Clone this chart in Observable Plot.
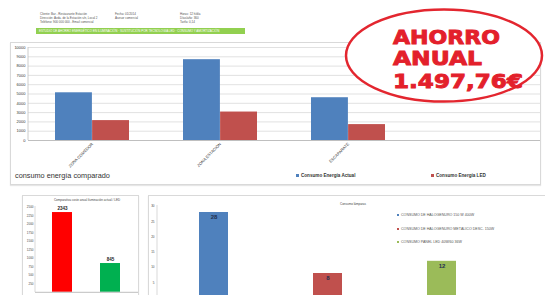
<!DOCTYPE html>
<html><head><meta charset="utf-8">
<script src="https://cdn.jsdelivr.net/npm/d3@7"></script>
<script src="https://cdn.jsdelivr.net/npm/@observablehq/plot@0.6"></script>
<style>
html,body{margin:0;padding:0;background:#fff;}
body{width:545px;height:295px;overflow:hidden;position:relative;font-family:"Liberation Sans",Arial,sans-serif;}
.abs{position:absolute;white-space:nowrap;}
.panel{position:absolute;border:1px solid #d9d9d9;background:#fff;box-sizing:border-box;box-shadow:0 1px 1px #e6e6e6;}
.plot{position:absolute;}
.tiny{font-size:3px;color:#555;line-height:4px;}
.sw{display:inline-block;width:3px;height:3px;margin-right:2px;vertical-align:middle;}
</style></head><body>
<script>
// ---------- DATA ----------
const zonas = ["ZONA COMEDOR", "ZONA ESTACIÓN", "ESCAPARATE"];
const consumoActual = [5130, 8690, 4600];
const consumoLED = [2140, 3060, 1710];
const topTicks = [0, 1000, 2000, 3000, 4000, 5000, 6000, 7000, 8000, 9000, 10000];
const seriesTop = ["Consumo Energía Actual", "Consumo Energía LED"];

const costes = ["Coste anual actual", "Coste anual LED"];
const costeValores = [2343.00, 845.24];
const costeTicks = [250, 500, 750, 1000, 1250, 1500, 1750, 2000, 2250, 2500];

const lamparas = ["CONSUMO DE HALOGENURO 150 W 400W", "CONSUMO DE HALOGENURO METÁLICO DESC. 150W", "CONSUMO PANEL LED 40W/60 36W"];
const lamparasValores = [28, 8, 12];
const lamparasTicks = [5, 10, 15, 20, 25, 30];

const ahorroLineas = ["AHORRO", "ANUAL", "1.497,76€"];

// ---------- HELPERS ----------
const body = document.body;
function div(cls, css, html) {
  const d = document.createElement("div");
  d.className = cls; d.style.cssText = css; d.innerHTML = html || "";
  body.appendChild(d); return d;
}
function place(el, left, top) {
  el.classList.add("plot");
  el.style.left = left + "px"; el.style.top = top + "px";
  body.appendChild(el);
}

// ---------- HEADER ----------
div("abs tiny", "left:40px;top:12px;", "Cliente: Bar - Restaurante Estación<br>Dirección: Avda. de la Estación s/n, Local 2<br>Teléfono: 900 000 000 - Email comercial");
div("abs tiny", "left:115px;top:12px;", "Fecha: 01/2014<br>Asesor comercial");
div("abs tiny", "left:180px;top:12px;", "Horas: 12 h/día<br>Días/año: 360<br>Tarifa: 0,14");
div("abs", "left:36px;top:28px;width:209px;height:6px;background:#92d050;font-size:3px;line-height:6px;color:#fff;padding-left:3px;box-sizing:border-box;",
    "ESTUDIO DE AHORRO ENERGÉTICO EN ILUMINACIÓN · SUSTITUCIÓN POR TECNOLOGÍA LED · CONSUMO Y AMORTIZACIÓN");

// ---------- PANELS ----------
div("panel", "left:10px;top:42px;width:531px;height:143px;");
div("panel", "left:22px;top:195px;width:117px;height:110px;");
div("panel", "left:148px;top:195px;width:400px;height:110px;");

// ---------- TOP CHART ----------
const actualData = zonas.map((z, i) => ({zona: z, v: consumoActual[i]}));
const ledData = zonas.map((z, i) => ({zona: z, v: consumoLED[i]}));
const topPlot = Plot.plot({
  width: 530, height: 125,
  marginLeft: 18, marginRight: 0, marginTop: 5, marginBottom: 27,
  style: {fontSize: "4px", fontFamily: "Liberation Sans, Arial, sans-serif", color: "#333", background: "transparent", overflow: "visible"},
  x: {domain: [...zonas, ""], paddingInner: 0.42, paddingOuter: 0.21, label: null, tickSize: 0, tickRotate: -45, tickPadding: 3},
  y: {domain: [0, 10000], ticks: topTicks, label: null, tickSize: 0, tickPadding: 3, tickFormat: d3.format("d")},
  marks: [
    Plot.ruleY(topTicks, {stroke: "#d9d9d9", strokeWidth: 0.8}),
    Plot.barY(actualData, {x: "zona", y: "v", fill: "#4f81bd", insetRight: 37.1}),
    Plot.barY(ledData, {x: "zona", y: "v", fill: "#c0504d", insetLeft: 37.1}),
    Plot.ruleY([0], {stroke: "#bfbfbf"})
  ]
});
place(topPlot, 10, 42);
d3.select(topPlot).append("line").attr("x1", 18).attr("x2", 18).attr("y1", 5).attr("y2", 98).attr("stroke", "#bfbfbf").attr("stroke-width", 0.8);

div("abs", "left:15px;top:171px;font-size:7.3px;color:#333;", "consumo energía comparado");
div("abs", "left:296px;top:173px;font-size:4.6px;font-weight:bold;color:#333;", `<span class="sw" style="background:#4f81bd"></span>${seriesTop[0]}`);
div("abs", "left:431px;top:173px;font-size:4.6px;font-weight:bold;color:#333;", `<span class="sw" style="background:#c0504d"></span>${seriesTop[1]}`);

// ---------- BOTTOM LEFT CHART ----------
const costeData = costes.map((c, i) => ({c, v: costeValores[i]}));
const leftPlot = Plot.plot({
  width: 116, height: 110,
  marginLeft: 13, marginRight: 0, marginTop: 11.7, marginBottom: 13.2,
  style: {fontSize: "3px", fontFamily: "Liberation Sans, Arial, sans-serif", color: "#444", background: "transparent", overflow: "visible"},
  x: {domain: costes, paddingInner: 0.577, paddingOuter: 0.35, axis: null},
  y: {domain: [0, 2500], ticks: costeTicks, label: null, tickSize: 0, tickPadding: 2, tickFormat: d3.format("d")},
  color: {domain: costes, range: ["#ff0000", "#00b050"]},
  marks: [
    Plot.barY(costeData, {x: "c", y: "v", fill: "c"}),
    Plot.text(costeData, {x: "c", y: "v", text: d => d3.format("d")(d.v), dy: -3.5, fontSize: 4.5, fontWeight: "bold", fill: "#222", stroke: "#fff", strokeWidth: 1.5}),
    Plot.ruleY([0], {stroke: "#bfbfbf"}),
    Plot.text(["Comparativa coste anual iluminación actual / LED"], {frameAnchor: "top", dy: -8, fontSize: 3, fill: "#444"})
  ]
});
place(leftPlot, 22, 195);
d3.select(leftPlot).append("line").attr("x1", 13).attr("x2", 13).attr("y1", 11).attr("y2", 97).attr("stroke", "#bfbfbf").attr("stroke-width", 0.6);

// ---------- BOTTOM RIGHT CHART ----------
const lampData = lamparas.map((l, i) => ({l, v: lamparasValores[i]}));
const rightPlot = Plot.plot({
  width: 397, height: 115,
  marginLeft: 9, marginRight: 47, marginTop: 10.9, marginBottom: 12.6,
  style: {fontSize: "3px", fontFamily: "Liberation Sans, Arial, sans-serif", color: "#444", background: "transparent", overflow: "visible"},
  x: {domain: lamparas, paddingInner: 0.746, paddingOuter: 0.368, axis: null},
  y: {domain: [0, 30], ticks: lamparasTicks, label: null, tickSize: 0, tickPadding: 3},
  color: {domain: lamparas, range: ["#4f81bd", "#c0504d", "#9bbb59"]},
  marks: [
    Plot.barY(lampData, {x: "l", y: "v", fill: "l"}),
    Plot.text(lampData, {x: "l", y: "v", text: "v", dy: 5, fontSize: 6, fontWeight: "bold", fill: "#1f2f4f"}),
    Plot.ruleY([0], {stroke: "#bfbfbf"}),
    Plot.text(["Consumo lámparas"], {frameAnchor: "top", dx: 25, dy: -4, fontSize: 3, fill: "#444"})
  ]
});
place(rightPlot, 148, 195);
d3.select(rightPlot).append("line").attr("x1", 9).attr("x2", 9).attr("y1", 10).attr("y2", 103).attr("stroke", "#bfbfbf").attr("stroke-width", 0.6);

const legColors = ["#4f81bd", "#c0504d", "#9bbb59"];
lamparas.forEach((l, i) => {
  div("abs", `left:397px;top:${213 + [0, 14, 26.5][i]}px;font-size:3.6px;color:#555;`, `<span class="sw" style="width:2px;height:2px;background:${legColors[i]}"></span>${l}`);
});

// ---------- ANNOTATION ----------
const ann = d3.select(body).append("svg").attr("width", 545).attr("height", 295)
  .style("position", "absolute").style("left", "0px").style("top", "0px");
ann.append("ellipse").attr("cx", 444).attr("cy", 55.5).attr("rx", 98).attr("ry", 46)
  .attr("fill", "#fff").attr("stroke", "#e3262f").attr("stroke-width", 2.5);
const annY = [43.5, 64.5, 87.5];
const annW = [107, 89, 130];
ahorroLineas.forEach((t, i) => {
  ann.append("text").attr("x", 393).attr("y", annY[i]).text(t)
    .attr("fill", "#e3202b").attr("stroke", "#e3202b").attr("stroke-width", 0.9)
    .attr("font-family", "DejaVu Sans, sans-serif").attr("font-weight", "bold")
    .attr("font-size", 19.5)
    .attr("textLength", annW[i]).attr("lengthAdjust", "spacingAndGlyphs");
});
</script>
</body></html>
